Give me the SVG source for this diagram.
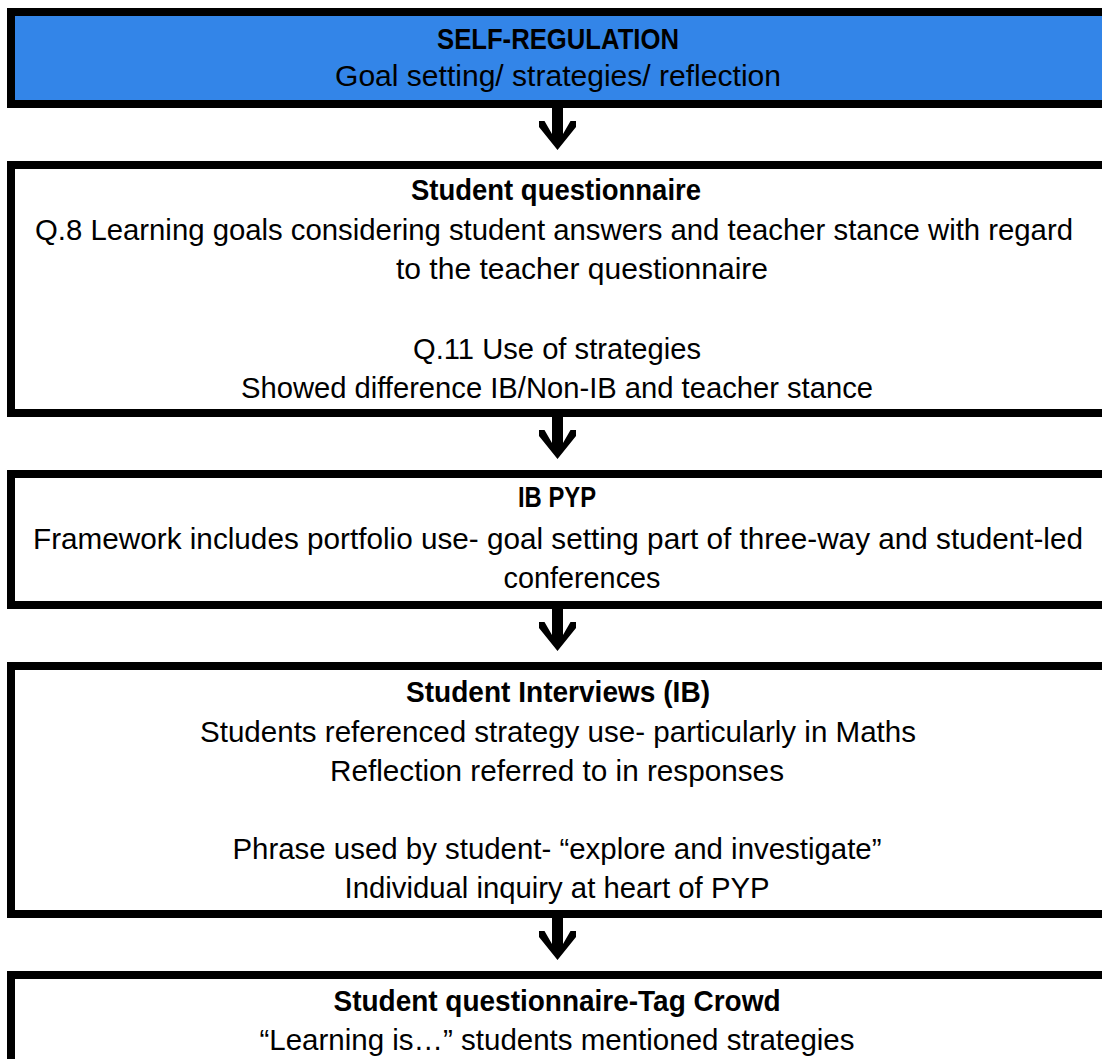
<svg xmlns="http://www.w3.org/2000/svg" width="1102" height="1059" viewBox="0 0 1102 1059">
<style>
.box{fill:#ffffff;stroke:#000000;stroke-width:8}
.blue{fill:#3385E8}
text{font-family:"Liberation Sans",Arial,sans-serif;font-size:29.5px;fill:#000000;text-anchor:middle}
.b{font-weight:bold}
.arrow{fill:#000000}
</style>
<defs>
<polygon id="arr" points="-5.5,0 5.5,0 5.5,26 13,13 18.5,13 18.5,19 0,42 -18.5,19 -18.5,13 -13,13 -5.5,26"/>
</defs>
<g id="node-self-regulation">
<rect class="box blue" x="11" y="12" width="1100" height="92"/>
<text class="b" x="558" y="49" textLength="242" lengthAdjust="spacingAndGlyphs">SELF-REGULATION</text>
<text x="558" y="86" textLength="446" lengthAdjust="spacingAndGlyphs">Goal setting/ strategies/ reflection</text>
</g>
<g id="node-student-questionnaire">
<rect class="box" x="11" y="165" width="1100" height="248"/>
<text class="b" x="556" y="200" textLength="290" lengthAdjust="spacingAndGlyphs">Student questionnaire</text>
<text x="554" y="240" textLength="1038" lengthAdjust="spacingAndGlyphs">Q.8 Learning goals considering student answers and teacher stance with regard</text>
<text x="582" y="279" textLength="372" lengthAdjust="spacingAndGlyphs">to the teacher questionnaire</text>
<text x="557" y="359" textLength="288" lengthAdjust="spacingAndGlyphs">Q.11 Use of strategies</text>
<text x="557" y="398" textLength="632" lengthAdjust="spacingAndGlyphs">Showed difference IB/Non-IB and teacher stance</text>
</g>
<g id="node-ib-pyp">
<rect class="box" x="11" y="474" width="1100" height="131"/>
<text class="b" x="557" y="507" textLength="78" lengthAdjust="spacingAndGlyphs">IB PYP</text>
<text x="558" y="549" textLength="1050" lengthAdjust="spacingAndGlyphs">Framework includes portfolio use- goal setting part of three-way and student-led</text>
<text x="582" y="588" textLength="157" lengthAdjust="spacingAndGlyphs">conferences</text>
</g>
<g id="node-student-interviews">
<rect class="box" x="11" y="666" width="1100" height="248"/>
<text class="b" x="558" y="702" textLength="304" lengthAdjust="spacingAndGlyphs">Student Interviews (IB)</text>
<text x="558" y="742" textLength="716" lengthAdjust="spacingAndGlyphs">Students referenced strategy use- particularly in Maths</text>
<text x="557" y="781" textLength="454" lengthAdjust="spacingAndGlyphs">Reflection referred to in responses</text>
<text x="557" y="859" textLength="649" lengthAdjust="spacingAndGlyphs">Phrase used by student- “explore and investigate”</text>
<text x="557" y="898" textLength="425" lengthAdjust="spacingAndGlyphs">Individual inquiry at heart of PYP</text>
</g>
<g id="node-tag-crowd">
<rect class="box" x="11" y="975" width="1100" height="120"/>
<text class="b" x="557" y="1011" textLength="447" lengthAdjust="spacingAndGlyphs">Student questionnaire-Tag Crowd</text>
<text x="557" y="1050" textLength="595" lengthAdjust="spacingAndGlyphs">“Learning is…” students mentioned strategies</text>
</g>
<g id="connectors" class="arrow">
<use href="#arr" x="557.5" y="108"/>
<use href="#arr" x="557.5" y="417"/>
<use href="#arr" x="557.5" y="609"/>
<use href="#arr" x="557.5" y="918"/>
</g>
</svg>
